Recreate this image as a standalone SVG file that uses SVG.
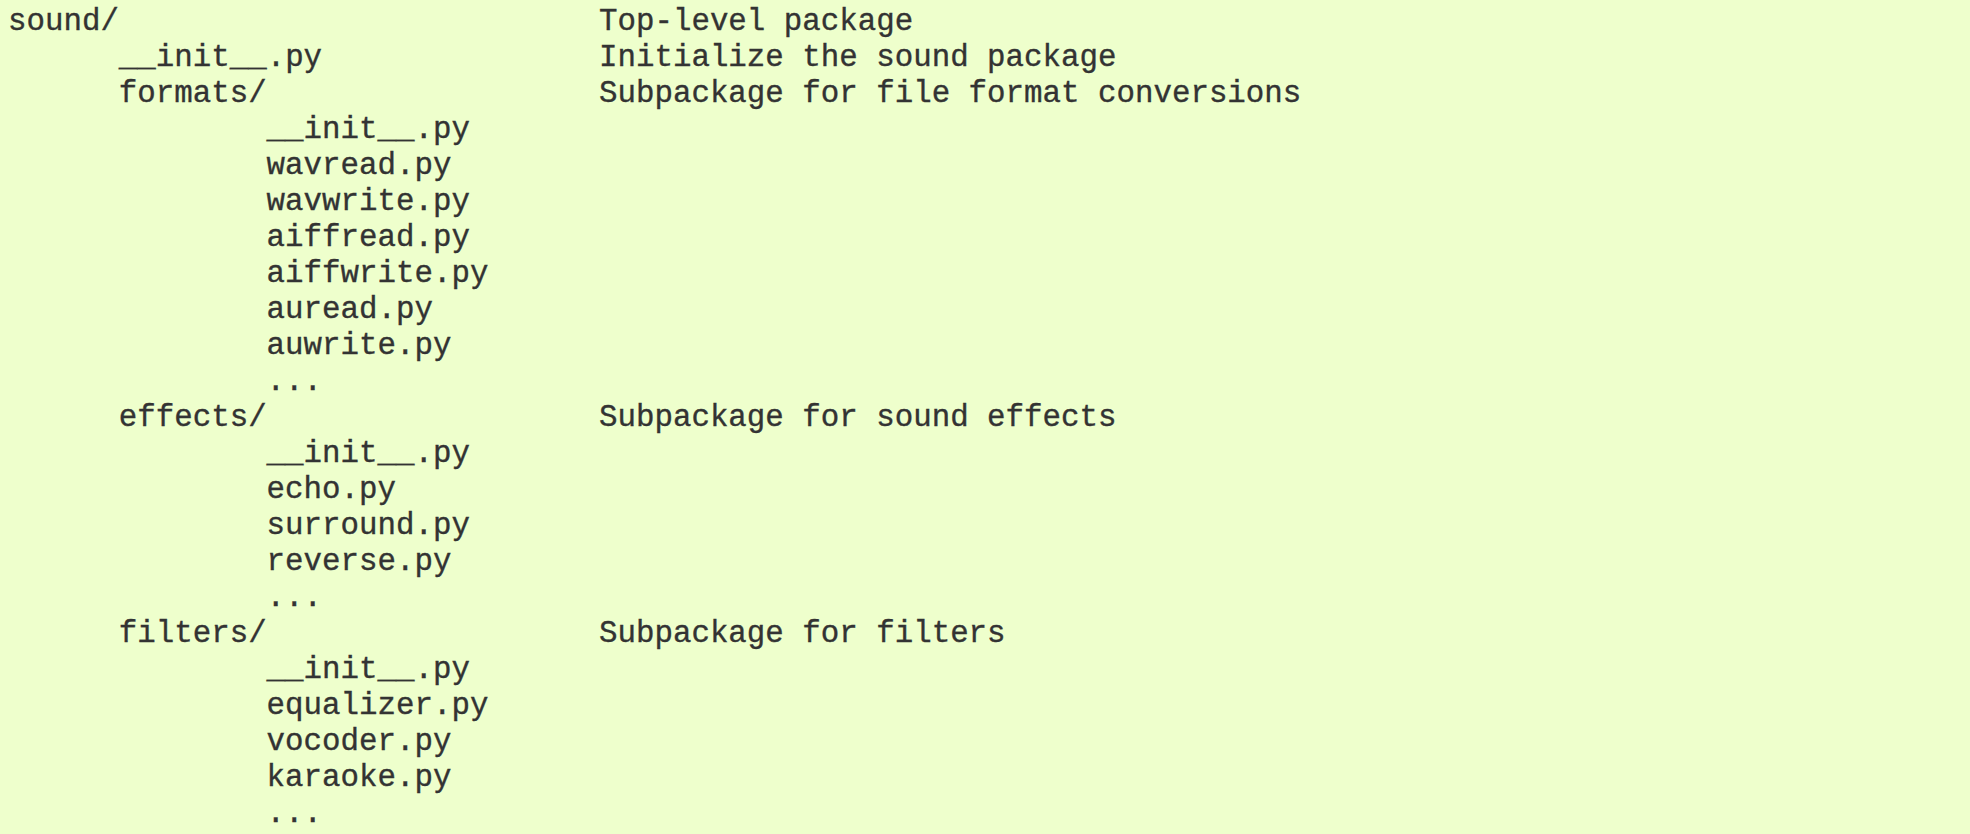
<svg xmlns="http://www.w3.org/2000/svg" width="1970" height="834" viewBox="0 0 1970 834">
  <style>
    .t { font-family: "Liberation Mono", "Courier New", monospace; font-size: 30.8px; fill: #333333; stroke: #333333; stroke-width: 0.35px; }
  </style>
  <!-- page background -->
  <rect x="0" y="0" width="1970" height="834" fill="#eeffcc"/>
  <!-- columns: level 0 at x=8, level 1 at 118.8, level 2 at 266.6, comments at 599 -->
  <g id="sound">
    <text class="t" x="8" y="30">sound/</text>
    <text class="t" x="599" y="30">Top-level package</text>
  </g>
  <g id="sound-init">
    <text class="t" x="118.8" y="66">__init__.py</text>
    <text class="t" x="599" y="66">Initialize the sound package</text>
  </g>
  <g id="formats">
    <text class="t" x="118.8" y="102">formats/</text>
    <text class="t" x="599" y="102">Subpackage for file format conversions</text>
  </g>
  <g id="formats-files">
    <text class="t" x="266.6" y="138">__init__.py</text>
    <text class="t" x="266.6" y="174">wavread.py</text>
    <text class="t" x="266.6" y="210">wavwrite.py</text>
    <text class="t" x="266.6" y="246">aiffread.py</text>
    <text class="t" x="266.6" y="282">aiffwrite.py</text>
    <text class="t" x="266.6" y="318">auread.py</text>
    <text class="t" x="266.6" y="354">auwrite.py</text>
    <text class="t" x="266.6" y="390">...</text>
  </g>
  <g id="effects">
    <text class="t" x="118.8" y="426">effects/</text>
    <text class="t" x="599" y="426">Subpackage for sound effects</text>
  </g>
  <g id="effects-files">
    <text class="t" x="266.6" y="462">__init__.py</text>
    <text class="t" x="266.6" y="498">echo.py</text>
    <text class="t" x="266.6" y="534">surround.py</text>
    <text class="t" x="266.6" y="570">reverse.py</text>
    <text class="t" x="266.6" y="606">...</text>
  </g>
  <g id="filters">
    <text class="t" x="118.8" y="642">filters/</text>
    <text class="t" x="599" y="642">Subpackage for filters</text>
  </g>
  <g id="filters-files">
    <text class="t" x="266.6" y="678">__init__.py</text>
    <text class="t" x="266.6" y="714">equalizer.py</text>
    <text class="t" x="266.6" y="750">vocoder.py</text>
    <text class="t" x="266.6" y="786">karaoke.py</text>
    <text class="t" x="266.6" y="822">...</text>
  </g>
  <g id="connectors"/>
</svg>
